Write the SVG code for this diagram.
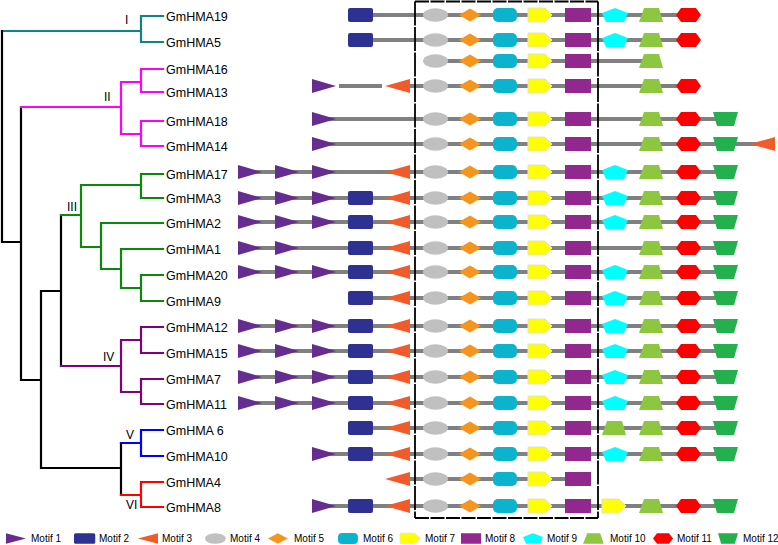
<svg xmlns="http://www.w3.org/2000/svg" xmlns:xlink="http://www.w3.org/1999/xlink" width="778" height="545" viewBox="0 0 778 545">
<style>
text{font-family:"Liberation Sans",Arial,sans-serif;fill:#000}
.gn{font-size:12.5px}
.cl{font-size:12px}
.lg{font-size:10px}
.br{fill:none;stroke-width:2.2;stroke-linecap:square;stroke-linejoin:miter}
.k{stroke:#000}.t{stroke:#0e8585}.mg{stroke:#ff00ff}.g{stroke:#0a8a0a}.p{stroke:#800080}.b{stroke:#0000ff}.r{stroke:#ff0000}
.bb{stroke:#808080;stroke-width:4;fill:none}
.box{stroke:#000;stroke-width:1.8;fill:none}
</style>
<defs>
<polygon id="m1" points="0,-7 24,0 0,7" fill="#662d91"/>
<rect id="m2" x="0" y="-7" width="25" height="14" rx="2" fill="#2e3192"/>
<polygon id="m3" points="0,0 25,-7 25,7" fill="#f15a29"/>
<ellipse id="m4" cx="12.5" cy="0" rx="12.5" ry="6.8" fill="#c0c0c0"/>
<polygon id="m5" points="0,0 11,-6.5 22,0 11,6.5" fill="#f7941d"/>
<rect id="m6" x="0" y="-7" width="24" height="14" rx="5" fill="#0bb3cc"/>
<polygon id="m7" points="0,-7 17,-7 24,0 17,7 0,7" fill="#ffff00" stroke="#e2e2cc" stroke-width="1"/>
<rect id="m8" x="0" y="-7" width="26" height="14" fill="#92278f"/>
<polygon id="m9" points="13,-7 26,-2 22,7 4,7 0,-2" fill="#00ffff"/>
<polygon id="m10" points="5,-7 20,-7 24,7 0,7" fill="#8dc63f"/>
<polygon id="m11" points="0,0 5,-7 20,-7 25,0 20,7 5,7" fill="#ff0000"/>
<polygon id="m12" points="0,-7 25,-7 21,7 4,7" fill="#22b14c"/>
<g id="core">
<use href="#m4" x="423"/><use href="#m5" x="459"/><use href="#m6" x="493"/><use href="#m7" x="528"/><use href="#m8" x="565"/>
</g>
<g id="tail">
<use href="#m9" x="602"/><use href="#m10" x="639"/><use href="#m11" x="676"/><use href="#m12" x="713"/>
</g>
</defs>

<g id="connectors">
<g id="tree">
<path class="br t" d="M2,31 H141 M163,16 H141 V42 H163"/>
<path class="br k" d="M2,31 V242 H21 M21,107 V380 H41 M41,291 V468 H121 M41,291 H61 M61,215 V366 M121,443 V495"/>
<path class="br mg" d="M21,107 H121 M121,82 V134 M121,82 H141 M163,69 H141 V92 H163 M121,134 H141 M163,121 H141 V146 H163"/>
<path class="br g" d="M61,215 H81 M81,185 V247 M81,185 H141 M163,174 H141 V198 H163 M81,247 H101 M101,223 V269 M101,223 H163 M101,269 H121 M121,249 V288 M121,249 H163 M121,288 H141 M163,275 H141 V301 H163"/>
<path class="br p" d="M61,366 H121 M121,340 V392 M121,340 H141 M163,327 H141 V353 H163 M121,392 H141 M163,379 H141 V404 H163"/>
<path class="br b" d="M121,443 H141 M163,430 H141 V456 H163"/>
<path class="br r" d="M121,495 H141 M163,482 H141 V507 H163"/>
</g>
<g id="backbones">
<path class="bb" d="M360,15 H688 M360,40 H688 M430,61 H650 M339,86 H382 M409,86 H690 M324,119 H725 M324,144 H760 M250,172 H725 M250,198 H725 M250,222 H725 M250,248 H725 M250,272 H725 M360,298 H725 M250,326 H725 M250,351 H725 M250,377 H725 M250,403 H725 M360,428 H725 M324,454 H725 M397,479 H578 M324,506 H725"/>
</g>
</g>

<g id="tree-labels">
<text class="cl" x="125" y="24">I</text>
<text class="cl" x="104" y="101">II</text>
<text class="cl" x="67" y="211">III</text>
<text class="cl" x="103" y="361">IV</text>
<text class="cl" x="126" y="439">V</text>
<text class="cl" x="126" y="509">VI</text>
</g>

<g id="GmHMA19"><text class="gn" x="166" y="20.5">GmHMA19</text>
<g transform="translate(0,15)"><use href="#m2" x="348"/><use href="#core"/><use href="#m9" x="602"/><use href="#m10" x="639"/><use href="#m11" x="676"/></g></g>
<g id="GmHMA5"><text class="gn" x="166" y="46.5">GmHMA5</text>
<g transform="translate(0,40)"><use href="#m2" x="348"/><use href="#core"/><use href="#m9" x="602"/><use href="#m10" x="639"/><use href="#m11" x="676"/></g></g>
<g id="GmHMA16"><text class="gn" x="166" y="73.5">GmHMA16</text>
<g transform="translate(0,61)"><use href="#core"/><use href="#m10" x="639"/></g></g>
<g id="GmHMA13"><text class="gn" x="166" y="96.5">GmHMA13</text>
<g transform="translate(0,86)"><use href="#m1" x="312"/><use href="#m3" x="385"/><use href="#core"/><use href="#m10" x="639"/><use href="#m11" x="676"/></g></g>
<g id="GmHMA18"><text class="gn" x="166" y="125.5">GmHMA18</text>
<g transform="translate(0,119)"><use href="#m1" x="312"/><use href="#core"/><use href="#m10" x="639"/><use href="#m11" x="676"/><use href="#m12" x="713"/></g></g>
<g id="GmHMA14"><text class="gn" x="166" y="150.5">GmHMA14</text>
<g transform="translate(0,144)"><use href="#m1" x="312"/><use href="#core"/><use href="#m10" x="639"/><use href="#m11" x="676"/><use href="#m12" x="713"/><use href="#m3" x="750"/></g></g>
<g id="GmHMA17"><text class="gn" x="166" y="178.5">GmHMA17</text>
<g transform="translate(0,172)"><use href="#m1" x="238"/><use href="#m1" x="275"/><use href="#m1" x="312"/><use href="#m3" x="385"/><use href="#core"/><use href="#tail"/></g></g>
<g id="GmHMA3"><text class="gn" x="166" y="202.5">GmHMA3</text>
<g transform="translate(0,198)"><use href="#m1" x="238"/><use href="#m1" x="275"/><use href="#m1" x="312"/><use href="#m2" x="348"/><use href="#m3" x="385"/><use href="#core"/><use href="#tail"/></g></g>
<g id="GmHMA2"><text class="gn" x="166" y="227.5">GmHMA2</text>
<g transform="translate(0,222)"><use href="#m1" x="238"/><use href="#m1" x="275"/><use href="#m1" x="312"/><use href="#m2" x="348"/><use href="#m3" x="385"/><use href="#core"/><use href="#tail"/></g></g>
<g id="GmHMA1"><text class="gn" x="166" y="253.5">GmHMA1</text>
<g transform="translate(0,248)"><use href="#m1" x="238"/><use href="#m1" x="275"/><use href="#m2" x="348"/><use href="#m3" x="385"/><use href="#core"/><use href="#m10" x="639"/><use href="#m11" x="676"/><use href="#m12" x="713"/></g></g>
<g id="GmHMA20"><text class="gn" x="166" y="279.5">GmHMA20</text>
<g transform="translate(0,272)"><use href="#m1" x="238"/><use href="#m1" x="275"/><use href="#m1" x="312"/><use href="#m2" x="348"/><use href="#m3" x="385"/><use href="#core"/><use href="#tail"/></g></g>
<g id="GmHMA9"><text class="gn" x="166" y="305.5">GmHMA9</text>
<g transform="translate(0,298)"><use href="#m2" x="348"/><use href="#m3" x="385"/><use href="#core"/><use href="#tail"/></g></g>
<g id="GmHMA12"><text class="gn" x="166" y="331.5">GmHMA12</text>
<g transform="translate(0,326)"><use href="#m1" x="238"/><use href="#m1" x="275"/><use href="#m1" x="312"/><use href="#m2" x="348"/><use href="#m3" x="385"/><use href="#core"/><use href="#tail"/></g></g>
<g id="GmHMA15"><text class="gn" x="166" y="357.5">GmHMA15</text>
<g transform="translate(0,351)"><use href="#m1" x="238"/><use href="#m1" x="275"/><use href="#m1" x="312"/><use href="#m2" x="348"/><use href="#m3" x="385"/><use href="#core"/><use href="#tail"/></g></g>
<g id="GmHMA7"><text class="gn" x="166" y="383.5">GmHMA7</text>
<g transform="translate(0,377)"><use href="#m1" x="238"/><use href="#m1" x="275"/><use href="#m1" x="312"/><use href="#m2" x="348"/><use href="#m3" x="385"/><use href="#core"/><use href="#tail"/></g></g>
<g id="GmHMA11"><text class="gn" x="166" y="408.5">GmHMA11</text>
<g transform="translate(0,403)"><use href="#m1" x="238"/><use href="#m1" x="275"/><use href="#m1" x="312"/><use href="#m2" x="348"/><use href="#m3" x="385"/><use href="#core"/><use href="#tail"/></g></g>
<g id="GmHMA6"><text class="gn" x="166" y="434.5">GmHMA 6</text>
<g transform="translate(0,428)"><use href="#m2" x="348"/><use href="#m3" x="385"/><use href="#core"/><use href="#m10" x="602"/><use href="#m10" x="639"/><use href="#m11" x="676"/><use href="#m12" x="713"/></g></g>
<g id="GmHMA10"><text class="gn" x="166" y="460.5">GmHMA10</text>
<g transform="translate(0,454)"><use href="#m1" x="312"/><use href="#m2" x="348"/><use href="#m3" x="385"/><use href="#core"/><use href="#tail"/></g></g>
<g id="GmHMA4"><text class="gn" x="166" y="486.5">GmHMA4</text>
<g transform="translate(0,479)"><use href="#m3" x="385"/><use href="#core"/></g></g>
<g id="GmHMA8"><text class="gn" x="166" y="511.5">GmHMA8</text>
<g transform="translate(0,506)"><use href="#m1" x="312"/><use href="#m2" x="348"/><use href="#m3" x="385"/><use href="#core"/><use href="#m7" x="602"/><use href="#m10" x="639"/><use href="#m11" x="676"/><use href="#m12" x="713"/></g></g>

<g id="conserved-box">
<path class="box" stroke-dasharray="14 1.5" d="M415,1.5 H598 M415,518 H598"/>
<path class="box" stroke-dasharray="24 1.5" d="M415,1.5 V518 M598,1.5 V518"/>
</g>

<g id="legend">
<g transform="translate(6,538.5) scale(0.83,0.75)"><use href="#m1"/></g><text class="lg" x="31" y="542">Motif 1</text>
<g transform="translate(74,538.5) scale(0.85,0.75)"><use href="#m2"/></g><text class="lg" x="99" y="542">Motif 2</text>
<g transform="translate(138,538.5) scale(0.8,0.75)"><use href="#m3"/></g><text class="lg" x="162" y="542">Motif 3</text>
<g transform="translate(205,538.5) scale(0.83,0.78)"><use href="#m4"/></g><text class="lg" x="230" y="542">Motif 4</text>
<g transform="translate(268,538.5) scale(0.9,0.8)"><use href="#m5"/></g><text class="lg" x="294" y="542">Motif 5</text>
<g transform="translate(338,538.5) scale(0.83,0.78)"><use href="#m6"/></g><text class="lg" x="363" y="542">Motif 6</text>
<g transform="translate(400,538.5) scale(0.86,0.75)"><use href="#m7"/></g><text class="lg" x="425" y="542">Motif 7</text>
<g transform="translate(461,538.5) scale(0.77,0.75)"><use href="#m8"/></g><text class="lg" x="485" y="542">Motif 8</text>
<g transform="translate(523,538.5) scale(0.77,0.75)"><use href="#m9"/></g><text class="lg" x="547" y="542">Motif 9</text>
<g transform="translate(583,538.5) scale(0.86,0.75)"><use href="#m10"/></g><text class="lg" x="610" y="542">Motif 10</text>
<g transform="translate(653,538.5) scale(0.8,0.75)"><use href="#m11"/></g><text class="lg" x="677" y="542">Motif 11</text>
<g transform="translate(718,538.5) scale(0.8,0.75)"><use href="#m12"/></g><text class="lg" x="743" y="542">Motif 12</text>
</g>
</svg>
